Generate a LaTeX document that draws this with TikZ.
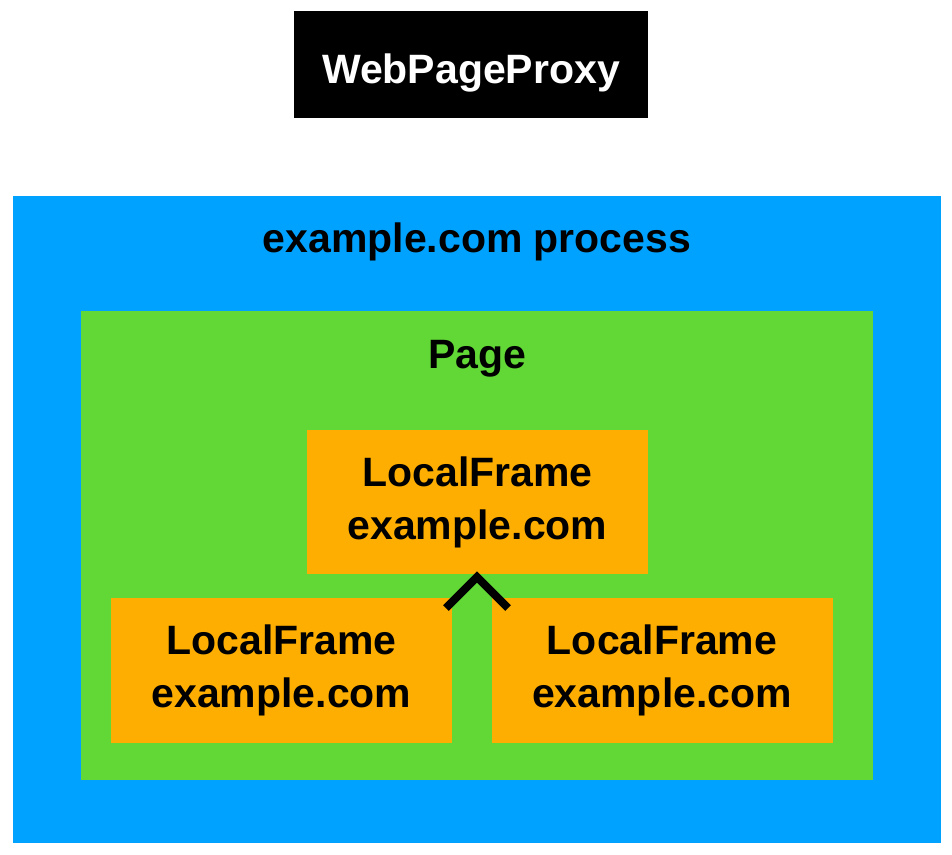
\documentclass[tikz,border=0pt]{standalone}
\usepackage{fontspec}
\setmainfont{Liberation Sans}
\definecolor{procblue}{RGB}{0,162,255}
\definecolor{pagegreen}{RGB}{97,216,54}
\definecolor{frameorange}{RGB}{254,174,0}
\begin{document}
\begin{tikzpicture}[x=1pt,y=-1pt,
  lbl/.style={font=\fontsize{41}{53}\selectfont\bfseries, align=center, inner sep=0pt},
  box/.style={inner sep=0pt, outer sep=0pt, draw=none},
  framebox/.style={box, fill=frameorange, minimum width=341pt, minimum height=145pt, lbl}]
\useasboundingbox (0,0) rectangle (952,854);
\node[box, fill=black, minimum width=354pt, minimum height=107pt] (proxy) at (471,64.5) {};
\node[lbl, anchor=base, text=white] (proxylbl) at (471,83) {WebPageProxy};
\node[box, fill=procblue, minimum width=928pt, minimum height=647pt] (proc) at (477,519.5) {};
\node[lbl, anchor=base] (proclbl) at (477,252) {example.com process};
\node[box, fill=pagegreen, minimum width=792pt, minimum height=469pt] (page) at (477,545.5) {};
\node[lbl, anchor=base] (pagelbl) at (477,368) {Page};
\node[framebox, minimum height=144pt] (top) at (477.5,502) {LocalFrame\\example.com};
\node[framebox] (left) at (281.5,670.5) {LocalFrame\\example.com};
\node[framebox] (right) at (662,670.5) {LocalFrame\\example.com};
\coordinate (tip) at (477,577);
\draw[line width=8pt, line join=miter] (tip) +(-31,31) -- (tip) -- +(31,31);
\end{tikzpicture}
\end{document}
